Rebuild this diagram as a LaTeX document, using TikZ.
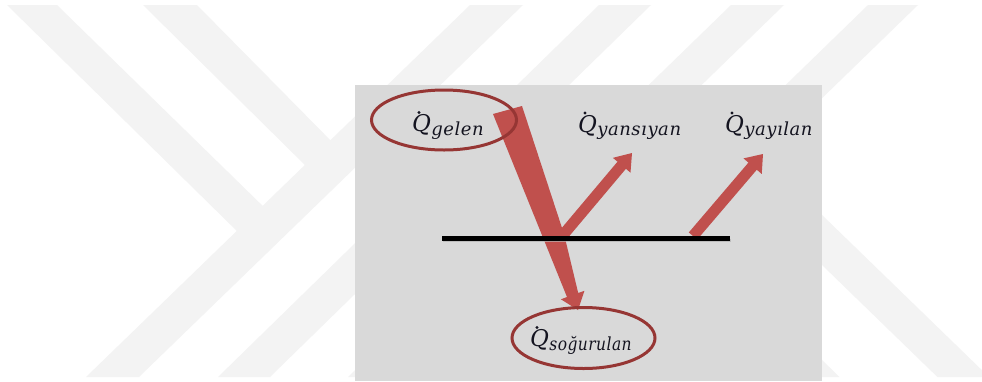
\documentclass[tikz,border=0pt]{standalone}
\usepackage{fontspec}
\setmainfont{DejaVu Serif}
\newfontfamily\subfont[LetterSpace=3]{DejaVu Serif}
\usetikzlibrary{calc,shapes.geometric}
\definecolor{wm}{RGB}{243,243,243}
\definecolor{panel}{RGB}{217,217,217}
\definecolor{arrowred}{RGB}{192,80,77}
\definecolor{ringred}{RGB}{150,54,52}
\definecolor{ink}{RGB}{20,20,32}
\newcommand{\qlab}[2][1]{{\fontsize{23}{23}\selectfont\itshape Q}\kern0.5pt\raisebox{-3.5pt}{\scalebox{#1}[1]{\subfont\fontsize{18}{18}\selectfont\itshape #2}}}
\newcommand{\qdotof}[1]{\fill[ink] ($(#1.base west)+(7,-19)$) circle (1.6pt);}
\newcommand{\blockarrow}[6][]{%
  \coordinate (hb) at ($(#3)!#6!(#2)$);
  \fill[#1] ($(#2)!#4!90:(#3)$) -- ($(hb)!#4!90:(#3)$) -- ($(hb)!#5!90:(#3)$) -- (#3)
    -- ($(hb)!#5!-90:(#3)$) -- ($(hb)!#4!-90:(#3)$) -- ($(#2)!#4!-90:(#3)$) -- cycle;}
\tikzset{
  lab/.style={anchor=base west, inner sep=0pt, outer sep=0pt, text=ink},
  ring/.style={ellipse, draw=ringred, line width=3pt, inner sep=0pt},
  band/.style={fill=wm},
}
\begin{document}
\begin{tikzpicture}[x=1pt,y=-1pt]
\useasboundingbox (0,0) rectangle (982,381);
\fill[white] (0,0) rectangle (982,381);
% watermark
\begin{scope}
\clip (0,5) rectangle (982,377);
\fill[band] (7,5) -- (57,5) -- (270,213) -- (245,239) -- cycle;
\fill[band] (143,5) -- (197,5) -- (342,152) -- (315,175) -- cycle;
\fill[band] (86,377) -- (139,377) -- (523,5) -- (470,5) -- cycle;
\fill[band] (218,377) -- (270,377) -- (651,5) -- (599,5) -- cycle;
\fill[band] (348,377) -- (401,377) -- (784,5) -- (731,5) -- cycle;
\fill[band] (485,377) -- (535,377) -- (918,5) -- (868,5) -- cycle;
\fill[band] (700,96.6) -- (989,377) -- (937.4,377) -- (700,146.6) -- cycle;
\fill[band] (700,241) -- (839.5,377) -- (790,377) -- (700,290) -- cycle;
\end{scope}
% panel
\fill[panel] (355,85) rectangle (822,381);
% incident + absorbed
\coordinate (inTL) at (493,114);
\coordinate (inTR) at (522,106);
\coordinate (vtx) at (564,234);
\coordinate (abR) at (578.2,293);
\coordinate (abHR) at (584.4,290.8);
\coordinate (abTip) at (578,310);
\coordinate (abHL) at (560.9,299.3);
\coordinate (abL) at (567,297);
\fill[arrowred] (inTL) -- (inTR) -- (vtx) -- (abR) -- (abHR) -- (abTip) -- (abHL) -- (abL) -- cycle;
% reflected and emitted
\coordinate (rfS) at (563,235);
\coordinate (rfT) at (632,153);
\coordinate (emS) at (693,236);
\coordinate (emT) at (763,154);
\blockarrow[arrowred]{rfS}{rfT}{5.5pt}{11.5pt}{16pt}
\blockarrow[arrowred]{emS}{emT}{5.5pt}{12pt}{16pt}
% surface
\coordinate (sL) at (442,238.3);
\coordinate (sR) at (730,238.3);
\draw[line width=3pt, black!30, opacity=0.7] ($(sL)+(1,2.5)$) -- ($(sR)+(1,2.5)$);
\draw[line width=4.5pt] (sL) -- (sR);
% rings
\node[ring, minimum width=145pt, minimum height=60pt] (ringGelen) at (444,120) {};
\node[ring, minimum width=143pt, minimum height=61pt] (ringSog) at (583.5,338) {};
% labels
\node[lab] (gelen) at (412,131.5) {\qlab{gelen}};
\node[lab] (yansiyan) at (578,132) {\qlab{yansıyan}};
\node[lab] (yayilan) at (725,132) {\qlab{yayılan}};
\node[lab] (sogurulan) at (530,346.5) {\qlab[0.86]{soğurulan}};
\qdotof{gelen}
\qdotof{yansiyan}
\qdotof{yayilan}
\qdotof{sogurulan}
\end{tikzpicture}
\end{document}
